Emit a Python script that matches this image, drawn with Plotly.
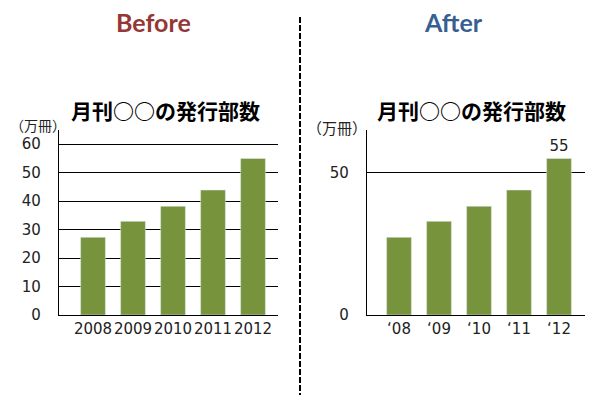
import plotly.graph_objects as go

years_before = ["2008", "2009", "2010", "2011", "2012"]
years_after = ["\u201808", "\u201809", "\u201810", "\u201811", "\u201812"]
copies = [27.3, 32.9, 38.2, 43.9, 55]
title_text = "月刊○○の発行部数"
unit_text = "（万冊）"
before_ticks = [0, 10, 20, 30, 40, 50, 60]
after_ticks = [0, 50]

# page body has an 8px margin; lay the figure out in window pixels
OFF = 8
W, H = 600 - OFF, 406 - OFF
BAR = "#77933C"
JP = "Noto Sans CJK JP"
NUM = "DejaVu Sans"

def px(x):
    return (x - OFF) / W

def py(y):
    return 1 - (y - OFF) / H

fig = go.Figure()
idx = list(range(len(copies)))
fig.add_trace(go.Bar(x=idx, y=copies, marker_color=BAR, width=0.62,
                     xaxis="x", yaxis="y", hoverinfo="skip"))
last_lbl = [""] * (len(copies) - 1) + [f"{copies[-1]:g}"]
fig.add_trace(go.Bar(x=idx, y=copies, marker_color=BAR, width=0.62,
                     text=last_lbl, textposition="outside", cliponaxis=False,
                     textfont=dict(family=NUM, size=15, color="#222"),
                     xaxis="x2", yaxis="y2", hoverinfo="skip"))

ydom = [py(315), py(130)]
common_x = dict(type="linear", showgrid=False, zeroline=False, showline=True,
                linecolor="black", linewidth=1.3, ticks="", automargin=False,
                tickangle=0,
                tickfont=dict(family=NUM, size=15, color="#222"))
common_y = dict(range=[0, 65], zeroline=False, showline=True, linecolor="black",
                linewidth=1.3, gridcolor="black", gridwidth=1.3, ticks="",
                ticklabelstandoff=14, automargin=False,
                tickfont=dict(family=NUM, size=15, color="#222"))

fig.update_layout(
    width=W, height=H, margin=dict(l=0, r=0, t=0, b=0, autoexpand=False),
    paper_bgcolor="white", plot_bgcolor="white", showlegend=False,
    xaxis=dict(domain=[px(59), px(278)], range=[-0.85, 4.625],
               tickvals=idx, ticktext=years_before, anchor="y", **common_x),
    yaxis=dict(domain=ydom, tickvals=before_ticks, anchor="x", **common_y),
    xaxis2=dict(domain=[px(367), px(585)], range=[-0.8, 4.65],
                tickvals=idx, ticktext=years_after, anchor="y2", **common_x),
    yaxis2=dict(domain=ydom, tickvals=after_ticks, anchor="x2", **common_y),
)

ann = [
    dict(text="<b>Before</b>", x=px(153.5), y=py(22), xanchor="center", font=dict(family="Lato", size=25, color="#953735")),
    dict(text="<b>After</b>", x=px(453.5), y=py(22), xanchor="center", font=dict(family="Lato", size=25, color="#376092")),
    dict(text="<b>" + title_text + "</b>", x=px(165), y=py(110), xanchor="center", font=dict(family=JP, size=21, color="black")),
    dict(text="<b>" + title_text + "</b>", x=px(471.5), y=py(110), xanchor="center", font=dict(family=JP, size=21, color="black")),
    dict(text=unit_text, x=px(OFF), y=py(125), xanchor="left", font=dict(family=JP, size=14, color="#222")),
    dict(text=unit_text, x=px(337), y=py(127), xanchor="center", font=dict(family=JP, size=15, color="#222")),
]
for a in ann:
    fig.add_annotation(xref="paper", yref="paper", showarrow=False,
                       yanchor="middle", **a)

fig.add_shape(type="line", xref="paper", yref="paper", x0=px(300), x1=px(300),
              y0=py(17), y1=py(395), line=dict(color="black", width=2, dash="6px,2px"))

fig.write_html("out.html")
